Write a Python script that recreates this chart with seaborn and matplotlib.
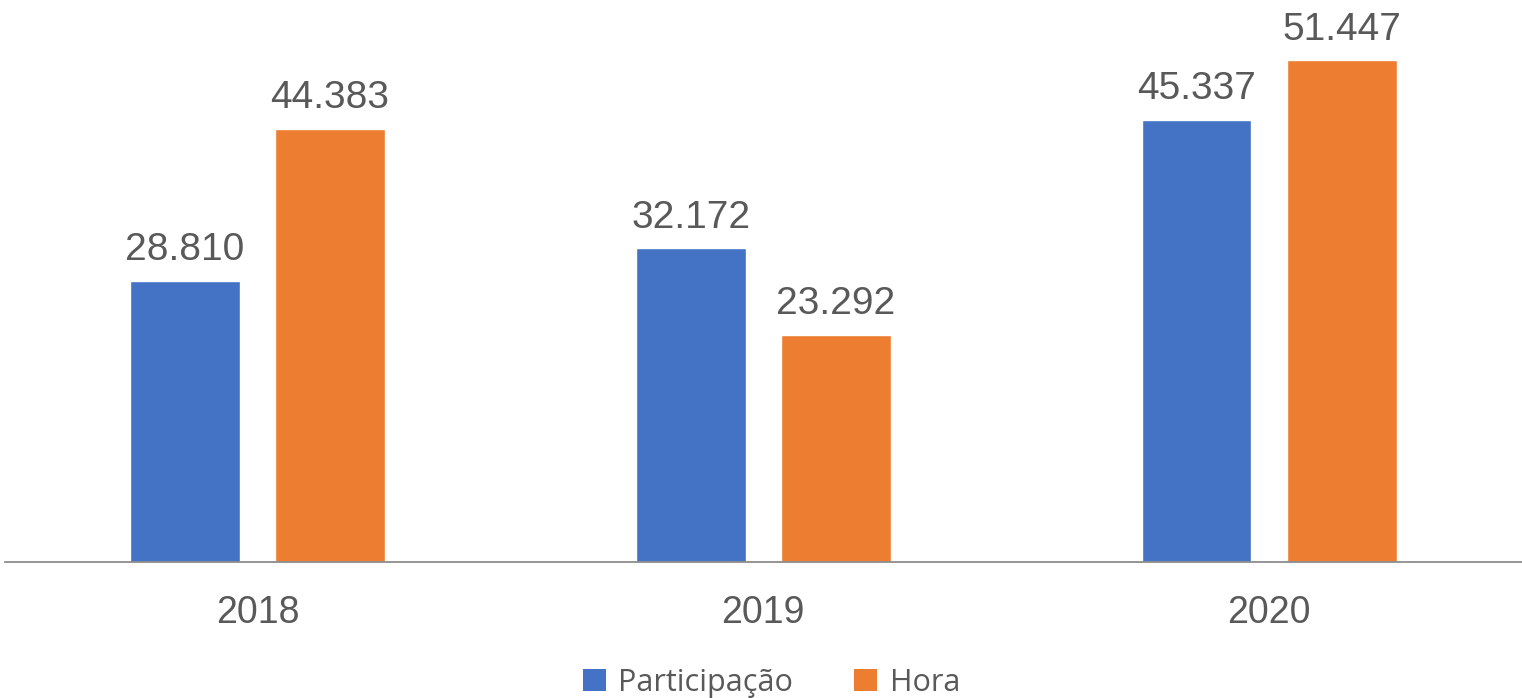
import pandas as pd
import matplotlib
matplotlib.use("Agg")
import matplotlib.pyplot as plt
import seaborn as sns
from matplotlib.patches import Patch

# --- data ---
years = ["2018", "2019", "2020"]
participacao = [28810, 32172, 45337]
hora = [44383, 23292, 51447]
series_names = ["Participação", "Hora"]
colors = ["#4472C4", "#ED7D31"]
TEXT_GRAY = "#595959"

df = pd.DataFrame({
    "ano": years * 2,
    "valor": participacao + hora,
    "serie": [series_names[0]] * 3 + [series_names[1]] * 3,
})

sns.set_theme(style="white")
plt.rcParams["font.family"] = ["Liberation Sans", "DejaVu Sans"]

fig = plt.figure(figsize=(15.22, 6.98), dpi=100)
ax = fig.add_axes([0.003, 0.195, 0.997, 0.805])

sns.barplot(data=df, x="ano", y="valor", hue="serie", palette=colors,
            width=0.574, gap=0.244, saturation=1, legend=False, ax=ax)

def fmt(v):
    return f"{v:,.0f}".replace(",", ".")

for cont in ax.containers:
    ax.bar_label(cont, labels=[fmt(b.get_height()) for b in cont],
                 padding=9, fontsize=28, color=TEXT_GRAY)

ax.set_ylim(0, 57600)
ax.set_xlim(-0.5, 2.5)
ax.set_xlabel("")
ax.set_ylabel("")
ax.set_yticks([])
ax.tick_params(axis="x", length=0, pad=24, labelsize=27, labelcolor=TEXT_GRAY)
for s in ["top", "right", "left"]:
    ax.spines[s].set_visible(False)
ax.spines["bottom"].set_color("#8c8c8c")
ax.spines["bottom"].set_linewidth(1.3)

handles = [Patch(facecolor=c, edgecolor="none") for c in colors]
fig.legend(handles, series_names, loc="lower center", bbox_to_anchor=(0.507, -0.039),
           ncol=2, frameon=False, prop={"family": "Open Sans", "size": 22},
           labelcolor=TEXT_GRAY, handlelength=0.75, handleheight=0.75,
           handletextpad=0.4, columnspacing=2.0)

fig.savefig("out.png", dpi=100)
